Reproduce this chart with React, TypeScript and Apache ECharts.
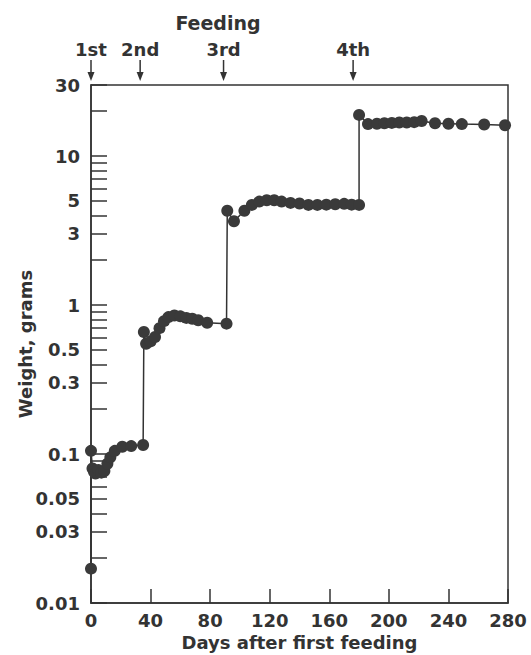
import React, { useEffect, useRef } from "react";
import * as echarts from "echarts";

// Growth data: days after first feeding vs weight in grams
const days = [
  0, 0, 1, 2, 3, 5, 7, 9, 11, 13, 16, 21, 27, 35,
  35.5, 37, 40, 43, 46, 49, 52, 56, 60, 64, 68, 72, 78, 91,
  91.5, 96, 103, 108, 113, 118, 123, 128, 134, 140, 146, 152, 158, 164, 170, 175, 180,
  180, 186, 192, 197, 202, 207, 212, 217, 222, 231, 240, 249, 264, 278,
];
const weights = [
  0.017, 0.105, 0.08, 0.076, 0.074, 0.078, 0.075, 0.077, 0.086, 0.095, 0.105, 0.112, 0.113, 0.115,
  0.66, 0.55, 0.57, 0.61, 0.7, 0.78, 0.83, 0.85, 0.84, 0.82, 0.81, 0.79, 0.76, 0.75,
  4.3, 3.65, 4.3, 4.7, 4.95, 5.05, 5.05, 4.95, 4.85, 4.8, 4.7, 4.7, 4.72, 4.75, 4.78, 4.72, 4.7,
  18.9, 16.4, 16.5, 16.6, 16.7, 16.8, 16.8, 16.9, 17.2, 16.6, 16.5, 16.4, 16.3, 16.1,
];

const yTickValues = [
  0.01, 0.02, 0.03, 0.04, 0.05, 0.06, 0.07, 0.08, 0.09,
  0.1, 0.2, 0.3, 0.4, 0.5, 0.6, 0.7, 0.8, 0.9,
  1, 2, 3, 4, 5, 6, 7, 8, 9,
  10, 20, 30,
];
const yLabelValues = [0.01, 0.03, 0.05, 0.1, 0.3, 0.5, 1, 3, 5, 10, 30];

const feedingDays = [0, 33, 89, 176];
const feedingLabels = ["1st", "2nd", "3rd", "4th"];
const feedingTitle = "Feeding";
const xTitle = "Days after first feeding";
const yTitle = "Weight, grams";

const INK = "#333333";
const FONT = "DejaVu Sans";

export default function App() {
  const ref = useRef<HTMLDivElement>(null);
  useEffect(() => {
    if (!ref.current) return;
    const chart = echarts.init(ref.current, undefined, { renderer: "svg" });
    const labelStyle = { color: INK, fontFamily: FONT, fontWeight: "bold" as const, fontSize: 18 };
    const titleStyle = { ...labelStyle, fontSize: 18 };
    chart.setOption({
      animation: false,
      backgroundColor: "#ffffff",
      grid: {
        left: 91,
        right: 23,
        top: 85,
        bottom: 52,
        containLabel: false,
        outerBoundsMode: "none",
        show: true,
        borderColor: INK,
        borderWidth: 1.5,
        backgroundColor: "transparent",
      },
      xAxis: {
        type: "value",
        min: 0,
        max: 280,
        interval: 40,
        name: xTitle,
        nameLocation: "middle",
        nameGap: 30,
        nameTextStyle: titleStyle,
        axisLine: { show: true, lineStyle: { color: INK, width: 1.5 } },
        axisTick: { show: true, inside: true, length: 14, lineStyle: { color: INK, width: 1.5 } },
        axisLabel: { ...labelStyle, margin: 8 },
        splitLine: { show: false },
      },
      yAxis: {
        type: "log",
        logBase: 10,
        min: 0.01,
        max: 30,
        name: yTitle,
        nameLocation: "middle",
        nameRotate: 90,
        nameGap: 57,
        nameMoveOverlap: false,
        nameTextStyle: titleStyle,
        axisLine: { show: true, lineStyle: { color: INK, width: 1.5 } },
        axisTick: {
          show: true,
          inside: true,
          length: 16,
          customValues: yTickValues,
          lineStyle: { color: INK, width: 1.5 },
        },
        axisLabel: {
          ...labelStyle,
          margin: 11,
          customValues: yLabelValues,
          formatter: (v: number) => String(Number(Number(v).toPrecision(3))),
        },
        splitLine: { show: false },
        minorTick: { show: false },
      },
      series: [
        {
          type: "line",
          data: days.map((d, i) => [d, weights[i]]),
          symbol: "circle",
          symbolSize: 12,
          itemStyle: { color: "#3a3a3a" },
          lineStyle: { color: INK, width: 1.5 },
          clip: false,
          z: 3,
        },
      ],
    });

    const graphics: any[] = [
      {
        type: "text",
        x: 218,
        y: 23,
        style: {
          text: feedingTitle,
          fill: INK,
          font: `bold 19px "${FONT}"`,
          align: "center",
          verticalAlign: "middle",
        },
      },
    ];
    feedingDays.forEach((d, i) => {
      const px = chart.convertToPixel({ xAxisIndex: 0 }, d) as number;
      graphics.push(
        {
          type: "text",
          x: px,
          y: 49,
          style: {
            text: feedingLabels[i],
            fill: INK,
            font: `bold 18px "${FONT}"`,
            align: "center",
            verticalAlign: "middle",
          },
        },
        {
          type: "line",
          shape: { x1: px, y1: 60, x2: px, y2: 76 },
          style: { stroke: INK, lineWidth: 1.5 },
        },
        {
          type: "polygon",
          shape: { points: [[px - 3.5, 72], [px + 3.5, 72], [px, 81]] },
          style: { fill: INK },
        }
      );
    });
    chart.setOption({ graphic: graphics });

    return () => chart.dispose();
  }, []);
  return (
    <div
      ref={ref}
      style={{ position: "fixed", left: 0, top: 0, width: 531, height: 655 }}
    />
  );
}
